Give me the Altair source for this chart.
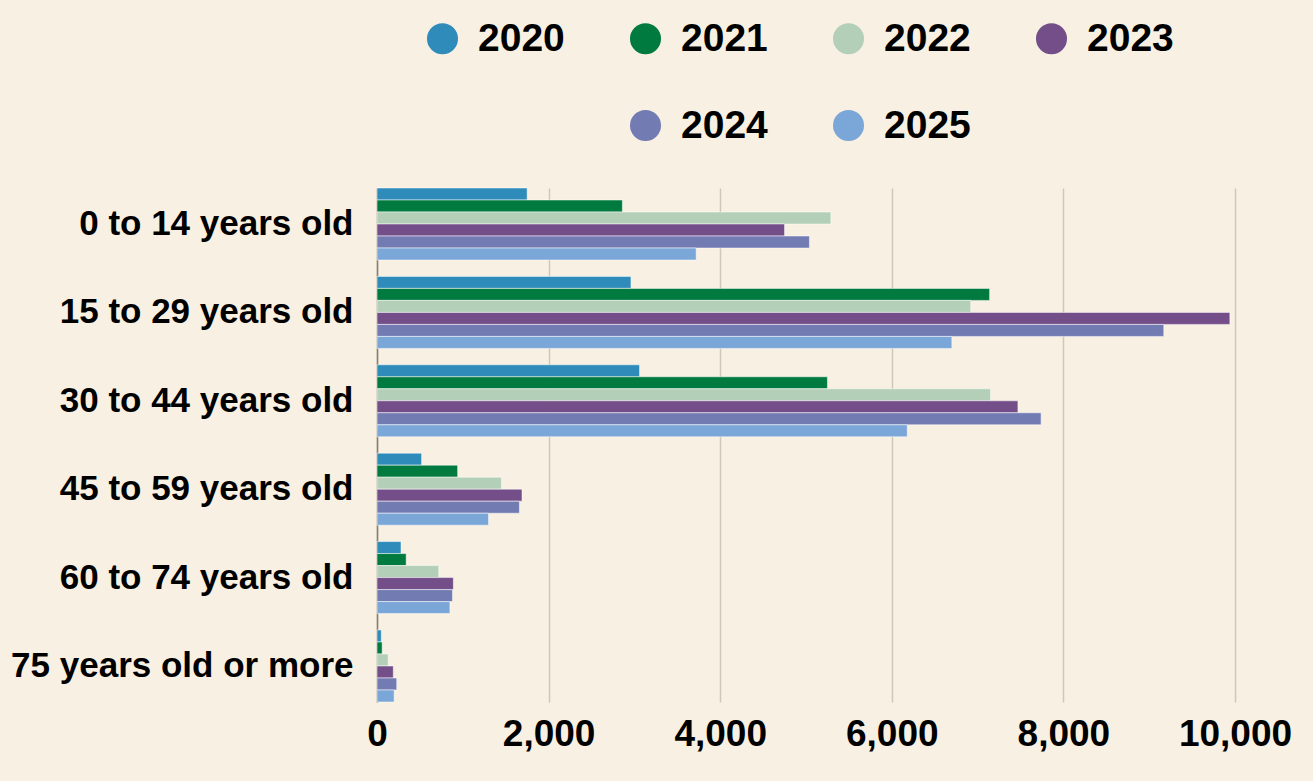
import altair as alt
import pandas as pd
import jinja2

ages = ["0 to 14 years old", "15 to 29 years old", "30 to 44 years old",
        "45 to 59 years old", "60 to 74 years old", "75 years old or more"]
years = ["2020", "2021", "2022", "2023", "2024", "2025"]
colors = ["#2e8bba", "#007a3e", "#b3cfb8", "#734e88", "#737bb3", "#7ba6d8"]

v2020 = [1750, 2960, 3060, 520, 280, 50]
v2021 = [2860, 7140, 5250, 940, 340, 60]
v2022 = [5290, 6920, 7150, 1450, 720, 130]
v2023 = [4750, 9940, 7470, 1690, 890, 190]
v2024 = [5040, 9170, 7740, 1660, 880, 230]
v2025 = [3720, 6700, 6180, 1300, 850, 200]

series = [v2020, v2021, v2022, v2023, v2024, v2025]
rows = []
for yr, vals in zip(years, series):
    for age, v in zip(ages, vals):
        rows.append({"age": age, "year": yr, "value": v})
df = pd.DataFrame(rows)

# legend domain with a blank slot so the second row sits under columns 2 and 3
legend_domain = years[:4] + [""] + years[4:]
legend_range = colors[:4] + ["rgba(0,0,0,0)"] + colors[4:]

FONT = "Liberation Sans"
BG = "#f8f0e2"

chart = alt.Chart(df).mark_bar(
    stroke="#ffffff", strokeOpacity=0.5, strokeWidth=1
).encode(
    y=alt.Y("age:N", sort=ages, title=None,
            scale=alt.Scale(paddingInner=0.185, paddingOuter=0),
            axis=alt.Axis(ticks=False, domain=True, domainColor="#867e71",
                          domainWidth=1.5, labelFont=FONT, labelFontSize=35,
                          labelFontWeight="bold", labelColor="#000000",
                          labelPadding=24, labelLimit=0, grid=False)),
    yOffset=alt.YOffset("year:N", sort=years,
                        scale=alt.Scale(paddingInner=0, paddingOuter=0)),
    x=alt.X("value:Q", title=None,
            scale=alt.Scale(domain=[0, 10000], nice=False),
            axis=alt.Axis(values=[0, 2000, 4000, 6000, 8000, 10000], format=",.0f",
                          ticks=False, domain=False, grid=True,
                          gridColor="#cfc7b8", gridWidth=1.5,
                          labelFont=FONT, labelFontSize=37, labelFontWeight="bold",
                          labelColor="#000000", labelPadding=14,
                          labelFlush=False)),
    color=alt.Color("year:N",
                    scale=alt.Scale(domain=legend_domain, range=legend_range),
                    legend=alt.Legend(
                        title=None, orient="none", legendX=46, legendY=-169,
                        direction="horizontal", columns=4,
                        symbolType="circle", symbolSize=962,
                        symbolStrokeWidth=0, symbolOpacity=1,
                        labelFont=FONT, labelFontSize=39, labelFontWeight="bold",
                        labelColor="#000000", labelOffset=16, labelLimit=0,
                        columnPadding=61, rowPadding=47, padding=0)),
).properties(
    width=858,
    height=514,
    background=BG,
    padding={"left": 2, "top": 11, "right": 5, "bottom": 5},
).configure_view(stroke=None)

PAGE = jinja2.Template("""<!DOCTYPE html>
<html>
<head>
<meta charset="utf-8">
<style>html, body { background: """ + BG + """; }</style>
<script type="text/javascript" src="{{ base_url }}/vega@{{ vega_version }}"></script>
<script type="text/javascript" src="{{ base_url }}/vega-lite@{{ vegalite_version }}"></script>
<script type="text/javascript" src="{{ base_url }}/vega-embed@{{ vegaembed_version }}"></script>
</head>
<body>
<div id="{{ output_div }}"></div>
<script type="text/javascript">
var spec = {{ spec }};
var embedOpt = {{ embed_options }};
vegaEmbed("#{{ output_div }}", spec, embedOpt).catch(console.error);
</script>
</body>
</html>
""")

try:
    chart.save("out.html", embed_options={"renderer": "svg", "actions": False},
               template=PAGE)
except TypeError:
    chart.save("out.html", embed_options={"renderer": "svg", "actions": False})
